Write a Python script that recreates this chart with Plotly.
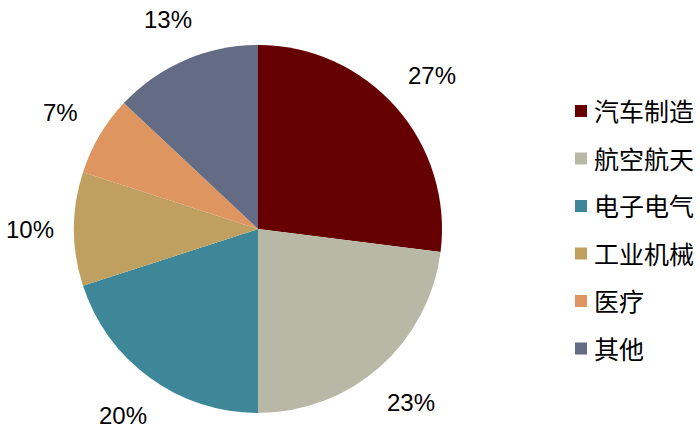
import math
import plotly.graph_objects as go

categories = ["汽车制造", "航空航天", "电子电气", "工业机械", "医疗", "其他"]
values = [27, 23, 20, 10, 7, 13]
colors = ["#660000", "#B8B8A6", "#3D8799", "#BFA060", "#DE955F", "#636B85"]

W, H = 700, 428
cx, cy, r = 258, 229, 184
label_gap = 25

fig = go.Figure()
fig.add_trace(go.Pie(
    labels=categories, values=values, sort=False, direction="clockwise", rotation=0,
    marker=dict(colors=colors, line=dict(width=0)),
    textinfo="none", showlegend=False, hoverinfo="label+percent",
    domain=dict(x=[(cx - r) / W, (cx + r) / W], y=[(H - cy - r) / H, (H - cy + r) / H]),
))

annotations = []
shapes = []
total = sum(values)
cum = 0
for v in values:
    mid = (cum + v / 2) / total * 2 * math.pi
    cum += v
    s, c = math.sin(mid), math.cos(mid)
    txt = f"{v}%"
    half_w = 0.28 * 24 * (len(txt) + 1) / 2 * 2 / 2 + 6
    half_h = 12
    d = r + label_gap + abs(s) * half_w + abs(c) * half_h
    px = cx + d * s
    py = cy - d * c
    annotations.append(dict(
        x=px / W, y=1 - py / H, xref="paper", yref="paper",
        text=txt, showarrow=False, xanchor="center", yanchor="middle",
        font=dict(family="Liberation Sans, Arial", size=24, color="#000000"),
    ))

# legend drawn manually
leg_x, leg_y0, leg_dy, sq = 581, 111, 47.5, 12
for i, (name, col) in enumerate(zip(categories, colors)):
    yc = leg_y0 + i * leg_dy
    shapes.append(dict(
        type="rect", xref="paper", yref="paper",
        x0=(leg_x - sq / 2) / W, x1=(leg_x + sq / 2) / W,
        y0=1 - (yc + sq / 2) / H, y1=1 - (yc - sq / 2) / H,
        fillcolor=col, line=dict(width=0),
    ))
    annotations.append(dict(
        x=592 / W, y=1 - (yc - 1) / H, xref="paper", yref="paper",
        text=name, showarrow=False, xanchor="left", yanchor="middle",
        font=dict(family="Noto Sans CJK SC", size=25, color="#000000"),
    ))

fig.update_layout(
    width=W, height=H, margin=dict(l=0, r=0, t=0, b=0, autoexpand=False),
    paper_bgcolor="white", plot_bgcolor="white",
    annotations=annotations, shapes=shapes, showlegend=False,
)
fig.write_html(
    "out.html",
    config={"displayModeBar": False},
    post_script="document.body.style.margin='0';document.body.style.overflow='hidden';",
)
